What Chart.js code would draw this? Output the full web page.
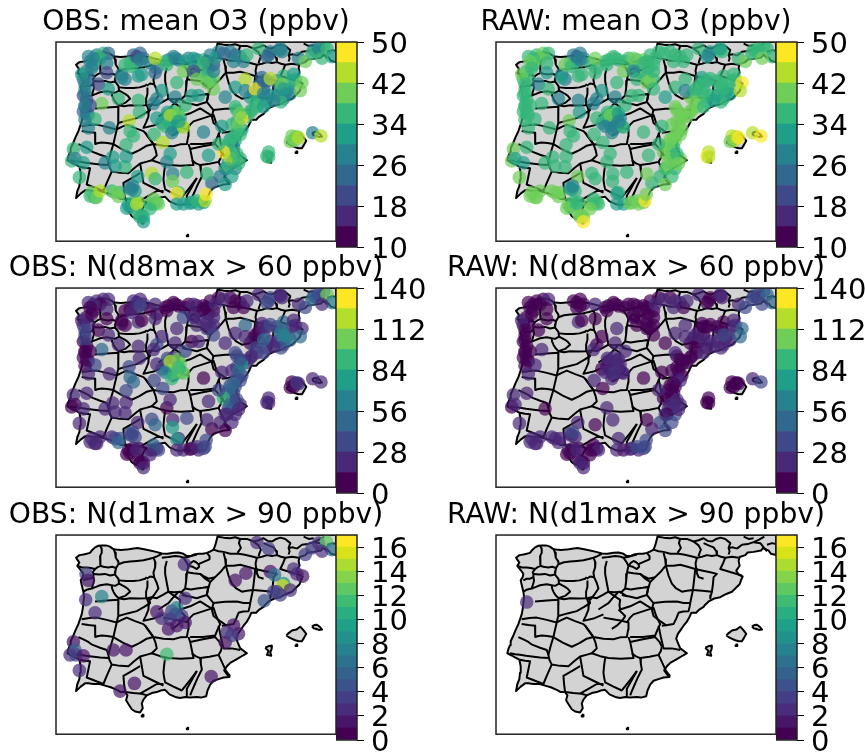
<!DOCTYPE html>
<html><head><meta charset="utf-8">
<script src="https://cdn.jsdelivr.net/npm/chart.js@4"></script>
<style>html,body{margin:0;padding:0;background:#fff;width:865px;height:753px;overflow:hidden}canvas{position:absolute}</style>
</head><body>
<script>
const _ = null;
const titles = ["OBS: mean O3 (ppbv)","RAW: mean O3 (ppbv)","OBS: N(d8max > 60 ppbv)","RAW: N(d8max > 60 ppbv)","OBS: N(d1max > 90 ppbv)","RAW: N(d1max > 90 ppbv)"];
const o3Ticks = [10,18,26,34,42,50];
const n60Ticks = [0,28,56,84,112,140];
const n90Ticks = [0,2,4,6,8,10,12,14,16];
const viridis10 = ["#440154","#482878","#3e4989","#31688e","#26828e","#1f9e89","#35b779","#6ece58","#b5de2b","#fde725"];
const viridis17 = ["#440154","#481668","#472d7b","#433e85","#3b528b","#33638d","#2c728e","#26828e","#21918c","#1fa088","#28ae80","#3fbc73","#5ec962","#84d44b","#addc30","#d8e219","#fde725"];

const land = [[503,30],[857,30],[857,92],[842,88],[835,78],[818,70],[812,78],[790,82],[772,84],[765,92],[748,98],[745,110],[748,125],[738,140],[745,152],[757,158],[752,170],[748,182],[735,195],[725,205],[708,212],[690,222],[672,226],[655,235],[645,245],[640,252],[625,262],[618,270],[603,270],[597,285],[590,297],[580,310],[572,322],[563,335],[558,350],[564,365],[570,380],[590,395],[578,402],[565,410],[552,418],[540,425],[530,435],[522,448],[530,460],[538,468],[520,470],[505,475],[490,480],[480,492],[472,510],[468,528],[452,532],[440,530],[420,532],[405,530],[390,533],[375,530],[358,522],[345,508],[332,510],[320,515],[305,518],[290,525],[280,538],[275,550],[278,565],[270,578],[255,575],[245,568],[235,552],[228,540],[232,525],[225,515],[212,515],[200,508],[182,500],[165,495],[148,490],[130,490],[115,488],[105,488],[92,498],[78,512],[82,490],[88,475],[90,455],[92,435],[88,415],[75,408],[65,402],[52,395],[55,382],[60,370],[62,358],[68,345],[76,325],[85,305],[90,290],[95,275],[98,258],[100,240],[102,222],[100,205],[96,188],[92,170],[98,160],[100,150],[92,138],[82,125],[88,115],[78,100],[88,92],[100,90],[110,88],[120,85],[125,78],[135,68],[145,63],[155,62],[168,62],[178,65],[188,72],[195,75],[212,76],[230,75],[246,72],[262,70],[282,74],[300,78],[318,82],[335,87],[352,88],[370,85],[385,84],[400,88],[410,95],[420,95],[432,90],[445,88],[458,88],[470,85],[482,80],[490,75],[494,65],[497,55],[500,42],[503,30]];
const islands = [
 [[708,340],[716,332],[725,325],[738,322],[750,313],[758,322],[768,335],[762,346],[755,358],[745,358],[735,355],[724,350],[715,345],[708,340]],
 [[785,312],[792,308],[800,307],[808,313],[815,322],[806,323],[798,320],[790,318],[785,312]],
 [[645,378],[655,373],[665,372],[664,382],[660,392],[663,403],[650,400],[655,388],[645,378]],
 [[736,368],[741,368],[741,373],[736,373],[736,368]],
 [[275,585],[280,585],[280,590],[275,590],[275,585]],
 [[410,625],[414,625],[414,630],[410,630],[410,625]]
];
const borders = [
 [[490,75],[505,80],[520,82],[540,88],[565,88],[580,90],[600,95],[620,100],[635,97],[650,92],[665,95],[680,92],[692,97],[705,100],[725,97],[745,100]],
 [[570,42],[566,55],[572,70],[562,85]],
 [[503,35],[520,38],[540,40],[555,37],[570,42],[590,42],[610,50],[625,46],[640,40],[652,48],[665,50]],
 [[610,50],[625,62],[632,75],[628,85],[625,95]],
 [[640,55],[655,62],[670,68],[678,80],[680,90]],
 [[665,50],[678,42],[690,38],[705,42],[720,55],[715,70],[728,68],[740,72]],
 [[715,70],[718,80],[715,90]],
 [[740,72],[755,60],[772,58],[790,52],[805,45],[822,35]],
 [[790,52],[810,55],[820,68],[830,80]],
 [[760,35],[775,42],[790,40]],
 [[830,60],[845,55],[857,58]],
 [[150,63],[155,72],[155,85],[150,95],[150,108],[152,125],[142,130],[135,135]],
 [[190,72],[195,85],[197,100],[205,112],[205,120],[198,132],[186,128],[175,130],[160,128],[150,125]],
 [[82,125],[95,130],[110,130],[122,132],[135,135],[128,145],[130,150],[130,160]],
 [[130,160],[132,170],[130,178],[125,195],[112,198],[100,205]],
 [[100,170],[110,165],[120,165],[130,160]],
 [[130,150],[148,152],[165,150],[180,155],[195,152],[205,165],[207,180],[195,187],[185,185],[170,182],[150,185],[138,190],[125,195]],
 [[198,132],[196,142],[195,152]],
 [[205,120],[222,114],[240,112],[260,110],[280,108],[296,104],[310,100],[322,95],[335,88]],
 [[207,170],[228,172],[250,172],[268,170],[285,165],[290,160]],
 [[310,100],[316,115],[315,130],[310,146],[312,160],[300,158],[290,165]],
 [[185,185],[186,195],[190,205],[196,215],[205,225],[225,218],[240,205],[232,195],[225,190],[207,180]],
 [[205,225],[222,228],[240,225],[265,226],[290,225],[288,205],[292,190],[292,170]],
 [[312,160],[320,178],[325,195],[312,215],[300,230]],
 [[350,110],[345,130],[345,150],[350,178],[355,205],[372,207],[390,205],[400,212],[410,220]],
 [[290,225],[305,222],[320,225],[338,215],[355,205]],
 [[335,100],[355,98],[375,95],[388,96],[400,100],[408,112],[415,125]],
 [[415,125],[412,138],[410,150],[408,172],[405,195],[398,202],[390,210]],
 [[400,100],[420,96],[440,90]],
 [[415,125],[428,128],[440,135],[447,128],[445,120],[438,114],[430,110],[422,116],[415,125]],
 [[410,145],[430,148],[450,150],[462,158],[475,165],[495,160]],
 [[470,85],[478,95],[478,105],[462,112],[445,120]],
 [[520,85],[525,105],[527,125],[518,135],[510,145],[495,160],[480,175],[465,165],[450,150]],
 [[405,195],[422,198],[440,195],[458,193],[475,190],[472,202],[470,215],[455,220],[440,225],[418,220],[395,215]],
 [[480,175],[474,195],[470,215],[480,228],[490,240],[525,236],[560,235],[580,240],[600,240],[604,220],[608,200],[590,202],[575,205],[558,195],[545,180],[535,155],[527,125]],
 [[527,125],[550,125],[570,122],[592,128],[615,135],[612,165],[608,200]],
 [[620,100],[616,118],[618,135],[620,148],[625,160],[640,165]],
 [[615,135],[638,140],[660,145],[680,150],[670,160],[668,182],[665,205]],
 [[705,100],[698,118],[690,135],[722,145],[755,155]],
 [[608,200],[636,202],[665,205],[662,216],[660,225]],
 [[490,240],[485,260],[490,280],[510,296],[530,310]],
 [[600,240],[598,252],[595,265],[578,266],[565,270],[558,288],[550,305],[532,308],[515,310]],
 [[355,205],[372,218],[390,230],[388,246],[390,260],[420,250],[450,235],[470,248],[490,260]],
 [[325,260],[340,250],[355,240],[370,222],[385,205]],
 [[340,285],[368,290],[395,295],[402,286],[405,280],[395,270],[385,260]],
 [[290,225],[296,242],[295,260],[288,278],[280,295],[310,288],[340,275]],
 [[285,310],[298,328],[310,345],[340,350],[370,352],[390,346],[410,345],[414,322],[415,300],[395,295],[380,310],[365,320]],
 [[410,300],[420,285],[430,275],[460,265],[490,255],[498,280],[510,305],[502,322],[495,340],[458,345],[420,345]],
 [[420,360],[458,352],[495,345],[508,360],[515,375],[512,388],[505,400],[478,406],[450,410],[436,404],[425,395]],
 [[505,310],[512,345],[520,380],[545,380],[570,385]],
 [[505,400],[516,424],[525,445],[532,456],[540,465]],
 [[450,410],[452,428],[455,445],[442,472],[430,500],[425,512],[420,525]],
 [[310,345],[316,362],[320,380],[312,388],[305,395],[330,404],[355,410],[392,412],[430,410],[425,385],[420,360],[415,345]],
 [[200,300],[215,292],[230,285],[255,296],[280,305],[285,310],[298,328],[310,345]],
 [[190,345],[218,362],[245,375],[268,364],[290,350],[310,345]],
 [[175,400],[182,372],[190,345]],
 [[175,400],[178,415],[185,430],[210,434],[235,435],[252,420],[270,405],[288,400],[305,395]],
 [[95,290],[118,286],[140,285],[170,292],[200,300],[195,322],[190,345]],
 [[135,235],[170,232],[205,230],[204,255],[205,280],[202,290],[200,300]],
 [[205,280],[232,272],[260,265],[282,252],[300,240],[298,232],[295,225]],
 [[95,305],[115,308],[135,310],[136,328],[135,345],[145,342],[155,340],[172,342],[190,345]],
 [[85,345],[100,352],[115,360],[122,366],[130,370],[150,378],[170,385],[175,400]],
 [[60,395],[75,398],[90,400],[108,403],[125,405],[150,408],[175,410]],
 [[90,415],[105,418],[120,420],[115,445],[110,470],[135,480],[160,490],[172,460],[185,430]],
 [[225,515],[222,490],[220,465],[245,450],[270,435]],
 [[270,405],[275,435],[280,465],[310,480],[340,495]],
 [[345,410],[342,432],[340,455],[342,470],[345,485],[370,498],[395,510],[418,480],[440,450]],
 [[225,515],[250,518],[275,520],[290,525]],
 [[270,520],[295,505],[320,490],[340,490]],
 [[440,450],[425,478],[410,505],[410,530]]
];

const denseE = [140,160,115,130,110,100,115,105,100,110, 100,110,115,250,270,260,280,240,215,225, 300,320,355,370,385,345,415,440,460,480, 505,470,490,475,430,450,470,490,480,540, 555,570,580,660,650,690,695,790,820,800, 680,690,715,720,700,680,660,650,625,600, 620,600,590,635,650,625,610,640,725,735, 700,350,360,370,380,390,355,370,395,335, 380,370,560,575,560,545,575,560,540,555, 530,550,545,535,550,525,555,570,425,445, 460,400,210,185,240,235,250,265,280,265, 310,320,300,385,135,125,240,255,730,735, 725,655];
const denseS = [70,65,75,100,120,145,140,175,195,210, 245,250,255,70,65,90,80,95,130,145, 95,110,85,75,85,90,80,85,85,70, 60,90,100,110,115,125,135,145,150,60, 70,75,90,60,75,55,60,55,40,60, 150,170,175,190,205,195,195,215,195,200, 230,245,260,140,150,165,185,175,150,145, 135,270,285,270,280,265,255,300,290,280, 255,245,240,255,275,285,300,310,330,335, 355,355,375,400,395,420,420,390,525,530, 525,530,495,490,540,530,525,525,570,560, 530,525,530,495,510,495,480,490,335,325, 320,370];
const denseO3Obs = [26,36,28,26,28,22,24,26,18,18, 24,24,26,22,24,26,24,36,28,26, 28,26,26,26,28,34,28,22,34,28, 28,24,20,22,36,36,36,38,36,26, 24,28,26,26,24,26,26,28,36,30, 28,26,30,28,28,26,30,32,30,32, 36,34,36,24,24,22,26,24,30,34, 36,30,30,28,28,30,30,30,36,32, 34,36,34,34,36,36,32,34,30,32, 34,28,34,30,28,26,26,34,32,30, 30,30,36,36,32,32,36,38,36,34, 36,36,36,34,30,38,26,30,40,40, 38,36];
const denseO3Raw = [36,38,36,36,36,34,34,34,36,36, 34,36,36,26,26,28,28,36,28,28, 34,34,34,34,36,36,36,36,38,36, 36,34,34,36,34,34,36,36,38,36, 34,36,36,30,30,36,34,36,34,36, 34,36,34,32,34,32,34,36,38,38, 40,40,40,30,30,34,34,34,34,36, 34,28,26,24,26,26,34,28,28,30, 28,36,40,40,40,40,38,40,38,38, 38,36,36,38,36,36,36,40,40,38, 40,32,40,38,36,38,34,34,40,38, 36,38,38,36,40,40,30,34,44,44, 44,44];
const denseN60Obs = [14,14,14,12,12,14,14,20,6,4, 10,6,14,14,14,14,14,12,8,10, 12,12,4,4,4,6,6,8,6,6, 12,6,8,10,12,14,14,16,20,8, 6,8,8,34,36,20,14,30,40,28, 30,46,60,50,40,30,24,20,18,10, 14,14,16,14,20,10,6,30,24,18, 50,60,80,100,100,100,90,60,80,30, 110,20,30,40,40,20,36,40,36,28, 34,40,36,36,30,20,24,20,14,26, 36,14,40,22,8,6,10,8,6,6, 28,24,8,20,12,14,36,28,10,26, 8,24];
const denseN60Raw = [6,8,4,4,4,4,6,6,4,4, 6,8,10,4,4,8,8,_,_,_, _,_,2,2,4,4,2,6,4,8, 12,6,8,6,6,6,6,4,6,12, 14,14,8,6,8,12,14,30,30,26, 10,24,28,26,18,20,14,12,6,6, 4,4,6,10,8,4,4,8,14,14, 8,14,14,24,26,20,10,10,10,8, 20,14,8,8,10,10,12,14,12,8, 8,8,10,14,26,28,36,14,24,26, 28,8,20,24,12,14,10,8,6,8, 10,12,6,14,14,14,24,14,4,4, 8,4];

const baseE = [175,150,130,120,170,95,125,170,145,105, 105,175,155,105,120,105,135,105,115,215, 225,245,260,270,265,275,315,350,375,405, 430,460,400,380,315,430,440,470,490,490, 495,520,550,590,625,655,690,745,765,785, 805,830,845,815,585,555,585,525,425,445, 375,335,320,310,265,205,268,237,320,352, 360,385,375,345,365,400,405,385,178,240, 250,228,312,338,460,515,555,575,570,565, 615,615,605,640,640,660,695,730,755,750, 705,692,670,700,640,570,550,535,520,540, 505,560,530,545,510,525,485,470,565,650, 655,720,740,745,787,812,475,350,360,410, 368,305,315,367,263,225,195,165,188,228, 110,70,65,75,100,88,120,140,150,195, 205,245,248,230,260,275,270,280,310,325, 300,380,380,420,440,465,468];
const baseS = [65,80,80,90,95,130,110,125,160,160, 190,175,220,230,225,225,268,270,295,140, 100,105,75,85,135,130,80,100,80,90, 80,95,120,155,125,120,145,155,120,175, 80,65,90,70,50,70,50,80,90,65, 50,50,75,80,145,170,180,200,195,195, 200,180,205,220,210,205,247,273,265,247, 257,250,290,290,310,293,225,275,295,305, 320,347,315,340,308,290,230,265,250,285, 175,215,240,230,150,143,160,130,155,180, 190,215,210,175,190,315,325,345,370,390, 345,375,420,445,445,470,465,437,405,383, 385,337,323,325,310,320,380,400,375,432, 437,435,452,460,445,415,413,403,385,383, 355,360,397,390,403,448,505,510,490,495, 507,485,475,543,530,565,570,585,515,530, 545,497,530,528,520,520,500];
const baseO3Obs = [24,36,28,28,26,30,26,20,18,26, 26,30,38,22,18,26,36,26,28,28, 36,36,20,26,32,30,42,34,26,30, 30,36,40,34,24,18,38,38,26,38, 30,24,26,36,34,24,26,26,38,34, 28,36,30,36,42,30,26,26,32,30, 26,30,28,26,34,34,34,44,32,32, 44,38,30,36,28,42,36,30,28,34, 34,36,34,44,26,30,34,48,40,40, 48,36,36,32,24,44,40,32,38,40, 26,36,26,30,26,34,34,34,46,42, 34,34,34,30,26,30,24,36,34,34, 36,38,40,42,28,42,30,26,32,34, 28,42,34,38,30,36,32,26,30,30, 30,36,36,26,30,36,36,38,44,38, 40,26,28,32,42,30,36,30,40,38, 36,46,30,32,34,44,48];
const baseO3Raw = [34,40,36,40,36,38,34,30,28,34, 34,34,34,36,34,36,34,36,34,30, 38,36,24,26,34,34,38,36,34,34, 40,36,38,36,34,28,34,38,34,36, 36,34,36,36,36,28,30,36,40,36, 34,36,36,38,36,34,28,32,34,36, 28,30,28,26,26,26,30,38,36,36, 40,30,28,28,26,34,36,28,36,36, 36,36,36,36,36,34,38,40,40,40, 36,38,40,36,36,34,36,34,46,42, 32,36,32,36,34,38,40,40,38,40, 36,34,40,36,34,40,34,40,40,46, 44,40,44,46,42,48,36,34,36,36, 36,34,36,36,40,36,36,36,36,36, 34,40,40,32,32,40,40,40,40,40, 40,30,28,40,34,38,40,46,36,36, 40,30,32,40,40,46,40];
const baseN60Obs = [14,8,14,10,14,14,12,12,10,28, 30,14,44,4,4,4,40,10,14,8, 12,14,14,28,14,12,14,4,2,8, 14,4,40,20,16,14,14,20,14,28, 14,14,6,14,14,40,14,14,40,44, 28,100,60,14,44,20,20,20,10,14, 14,18,28,14,20,14,18,36,24,36, 120,100,110,60,90,100,40,95,14,44, 46,40,40,34,12,26,40,70,30,50, 6,28,20,35,14,40,50,26,24,46, 56,40,22,60,46,30,44,44,90,50, 28,28,20,20,20,8,10,24,20,20, 24,8,28,24,14,24,16,6,18,38, 14,38,48,70,14,16,16,14,20,16, 20,14,8,10,24,24,14,20,14,40, 44,36,36,8,24,6,10,14,44,30, 14,70,14,12,22,40,40];
const baseN60Raw = [14,6,4,4,10,14,6,10,10,4, 6,_,14,4,4,6,20,10,14,_, _,_,2,4,14,10,14,4,2,2, 4,4,_,18,10,12,10,6,8,6, 14,14,14,14,14,4,14,14,40,30, 28,50,50,40,14,14,14,4,_,_, 14,4,4,14,_,_,_,_,_,14, 20,14,30,14,14,14,14,25,_,_, _,_,14,10,12,10,14,10,6,8, 14,6,8,16,10,6,10,20,48,50, 24,16,26,30,14,14,10,6,10,14, 14,20,10,40,30,36,14,12,14,6, 4,6,8,10,22,36,_,14,_,_, 14,_,6,_,14,_,_,12,_,_, 14,14,6,20,_,22,14,14,14,24, 14,26,30,12,14,6,14,14,12,14, 12,_,16,26,30,32,40];
const n90ObsE = [620,655,765,785,805,828,845,815,403,555,587,660,673,730,740,757,700,697,680,670,690,720,642,155,107,108,115,135,320,335,365,380,405,395,375,360,355,380,405,550,530,565,525,545,70,75,60,78,100,190,228,350,88,483,253,210];
const n90ObsS = [53,72,90,70,55,50,75,80,120,170,148,143,153,135,150,157,180,187,205,205,215,200,233,220,230,150,170,270,267,287,265,255,225,280,275,290,320,310,300,308,330,335,362,340,360,385,400,400,403,385,385,398,448,467,488,512];
const n90Obs = [2,3,3,3,2,12,6,2,2,1,1,1,6,2,2,1,8,15,3,3,3,2,4,7,2,3,1,2,1,2,3,7,2,3,4,3,1,1,1,1,2,1,1,3,1,5,2,3,1,1,1,11,2,1,1,1];
const n90RawE = [110];
const n90RawS = [237];
const n90Raw = [2];

const stationE = denseE.concat(baseE), stationS = denseS.concat(baseS);
const frameColor = '#222';
const framePlugin = {id:'frame',afterDraw(c){const a=c.chartArea,x=c.ctx;x.save();x.strokeStyle=frameColor;x.lineWidth=1.5;x.strokeRect(a.left,a.top,a.right-a.left,a.bottom-a.top);x.restore();}};
const wideTitle = {id:'wideTitle',afterLayout(c){const t=c.titleBlock;t.left=0;t.right=c.width;t.width=c.width;}};
const nudgeTicks = {id:'nudgeTicks',beforeDraw(c){const s=c.scales.y;s.getLabelItems().forEach(it=>{it.textOffset=3;});}};

function addCanvas(left,top,w,h){const e=document.createElement('canvas');e.width=w;e.height=h;e.style.left=left+'px';e.style.top=top+'px';e.style.width=w+'px';e.style.height=h+'px';document.body.appendChild(e);return e;}
const line=(pts,extra)=>Object.assign({type:'scatter',data:pts.map(p=>({x:p[0],y:p[1]})),showLine:true,pointRadius:0,borderColor:'#000',borderWidth:2,fill:false,tension:0,backgroundColor:'#d3d3d3',borderJoinStyle:'round'},extra||{});

function mapPanel(col,frameTop,title,E,S,V,min,max,colors,ticks){
 const fx=col===0?56:496, cx=fx+140;
 const titleH=42;
 const el=addCanvas(cx-195,frameTop-titleH,390,titleH+206);
 const pts=[],cols=[];
 V.forEach((v,i)=>{if(v===null)return;pts.push({x:E[i],y:S[i]});
  const k=Math.min(colors.length-1,Math.floor((v-min)/(max-min)*colors.length));
  const c=colors[k];const r=parseInt(c.slice(1,3),16),g=parseInt(c.slice(3,5),16),b=parseInt(c.slice(5,7),16);
  cols.push(`rgba(${r},${g},${b},0.7)`);});
 new Chart(el,{type:'scatter',plugins:[framePlugin,wideTitle],data:{datasets:[
  {data:pts,pointRadius:6.8,pointBorderWidth:0,pointBackgroundColor:cols,showLine:false,clip:0},
  ...borders.map(b=>line(b)),
  ...islands.map(b=>line(b,{fill:'shape'})),
  line(land,{fill:'shape'})
 ]},options:{responsive:false,animation:false,events:[],
  layout:{padding:{left:55,right:55,top:0,bottom:1}},
  plugins:{legend:{display:false},tooltip:{enabled:false},
   title:{display:true,text:title,color:'#000',font:{family:'DejaVu Sans',size:28.2,weight:'normal'},padding:{top:6.2,bottom:2}}},
  scales:{x:{display:false,type:'linear',min:18,max:857},y:{display:false,type:'linear',min:30,max:645,reverse:true}}}});

 const bx=fx+280, cw=110;
 const bar=addCanvas(bx,frameTop-25,cw,256);
 new Chart(bar,{type:'bar',plugins:[framePlugin,nudgeTicks],data:{labels:[''],datasets:colors.map((c,i)=>({data:[[min+(max-min)*i/colors.length,min+(max-min)*(i+1)/colors.length]],backgroundColor:c,barPercentage:1,categoryPercentage:1,borderWidth:0,grouped:false}))},
 options:{responsive:false,animation:false,events:[],layout:{padding:{top:25,bottom:26,left:0,right:0}},
  plugins:{legend:{display:false},tooltip:{enabled:false}},
  scales:{x:{display:false},
   y:{position:'right',min,max,afterFit(s){s.width=cw-21;},afterBuildTicks(s){s.ticks=ticks.map(v=>({value:v}));},
    grid:{drawOnChartArea:false,drawTicks:true,tickLength:7,tickColor:'#000'},border:{display:false},
    ticks:{color:'#000',font:{family:'DejaVu Sans',size:29},padding:7,autoSkip:false,maxRotation:0}}}}});
}
const o3ObsAll = denseO3Obs.concat(baseO3Obs), o3RawAll = denseO3Raw.concat(baseO3Raw);
const n60ObsAll = denseN60Obs.concat(baseN60Obs), n60RawAll = denseN60Raw.concat(baseN60Raw);
mapPanel(0,42,titles[0],stationE,stationS,o3ObsAll,10,50,viridis10,o3Ticks);
mapPanel(1,42,titles[1],stationE,stationS,o3RawAll,10,50,viridis10,o3Ticks);
mapPanel(0,288,titles[2],stationE,stationS,n60ObsAll,0,140,viridis10,n60Ticks);
mapPanel(1,288,titles[3],stationE,stationS,n60RawAll,0,140,viridis10,n60Ticks);
mapPanel(0,535,titles[4],n90ObsE,n90ObsS,n90Obs,0,17,viridis17,n90Ticks);
mapPanel(1,535,titles[5],n90RawE,n90RawS,n90Raw,0,17,viridis17,n90Ticks);
</script>
</body></html>
